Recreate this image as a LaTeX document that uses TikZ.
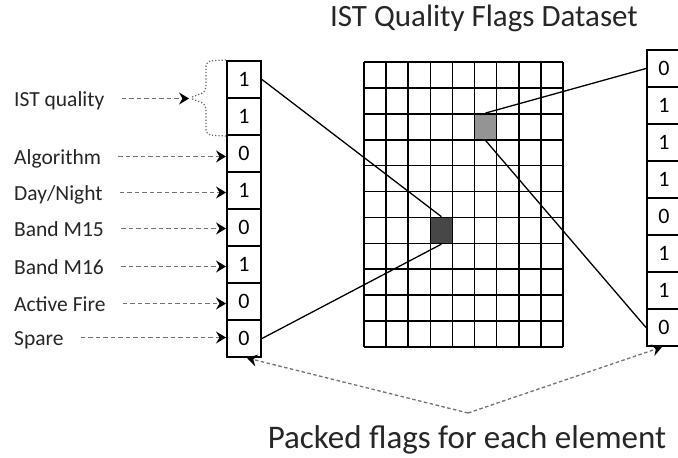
\documentclass[tikz,border=0pt]{standalone}
\usepackage{fontspec}
\setmainfont{Carlito}
\usetikzlibrary{arrows.meta,calc}
\begin{document}
\begin{tikzpicture}[x=1pt,y=-1pt,
  bitbox/.style={draw=black,line width=2pt,minimum width=34pt,minimum height=37pt,inner sep=0pt,font=\fontsize{22}{26}\selectfont},
  flaglabel/.style={anchor=base west,inner sep=0pt,font=\fontsize{21.5}{24}\selectfont,text=black!85},
  dasharrow/.style={draw=black!55,line width=1.3pt,dash pattern=on 4.5pt off 3pt,-{Stealth[black,length=10pt,width=12pt,inset=3.5pt]}},
  gridline/.style={line width=1.6pt,black},
  cellbox/.style={draw=black,line width=1.6pt,minimum width=22.1pt,minimum height=25.9pt,inner sep=0pt},
  link/.style={line width=1.3pt,black}]
\useasboundingbox (0,0) rectangle (678,458);

% title
\node[anchor=base,inner sep=0pt,font=\fontsize{31}{36}\selectfont,text=black!85] (title) at (484,26) {IST Quality Flags Dataset};

% grid
\foreach \i in {0,...,9} \draw[gridline] ({364+\i*22.111},62) -- ({364+\i*22.111},347);
\foreach \j in {0,...,11} \draw[gridline] (364,{62+\j*25.909}) -- (563,{62+\j*25.909});
\node[cellbox,fill=black!42] (lc) at ({364+5.5*22.111},{62+2.5*25.909}) {};
\node[cellbox,fill=black!72] (dc) at ({364+3.5*22.111},{62+6.5*25.909}) {};

% left column
\foreach \v [count=\i] in {1,1,0,1,0,1,0,0}
  \node[bitbox] (L\i) at (244,{61+37*(\i-0.5)}) {\v};
% right column
\foreach \v [count=\i] in {0,1,1,1,0,1,1,0}
  \node[bitbox] (R\i) at (664,{50+37*(\i-0.5)}) {\v};

% labels
\node[flaglabel] (t1) at (14,106) {IST quality};
\node[flaglabel] (t2) at (14,164) {Algorithm};
\node[flaglabel] (t3) at (14,200) {Day/Night};
\node[flaglabel] (t4) at (14,236) {Band M15};
\node[flaglabel] (t5) at (14,274) {Band M16};
\node[flaglabel] (t6) at (14,311) {Active Fire};
\node[flaglabel] (t7) at (14,345) {Spare};

\foreach \k in {1,...,7}
  \coordinate (s\k) at ($(t\k.base east)+(17,-7.5)$);

% brace
\coordinate (bt) at (189,98);
\draw[black!60,line width=1.2pt,dotted,rounded corners=5pt]
  (L1.north west) -- (206,61) -- (206,92) -- (bt) -- (206,104) -- (206,135) -- (L2.south west);
\draw[dasharrow] (s1) -- (s1 -| bt);
\draw[dasharrow] (s2) -- (s2 -| L3.west);
\draw[dasharrow] (s3) -- (s3 -| L4.west);
\draw[dasharrow] (s4) -- (s4 -| L5.west);
\draw[dasharrow] (s5) -- (s5 -| L6.west);
\draw[dasharrow] (s6) -- (s6 -| L7.west);
\draw[dasharrow] (s7) -- (s7 -| L8.west);

% links
\draw[link] (L1.east) -- (dc.north);
\draw[link] (L8.east) -- (dc.south);
\draw[link] (R1.west) -- (lc.north);
\draw[link] (lc.south) -- (R8.west);

% bottom
\node[anchor=base,inner sep=0pt,font=\fontsize{33}{38}\selectfont,text=black!85] (cap) at (467,448) {Packed flags for each element};
\coordinate (apex) at (468,413);
\draw[dasharrow,dash pattern=on 3.5pt off 2.5pt] (apex) -- ([xshift=3pt]L8.south);
\draw[dasharrow,dash pattern=on 3.5pt off 2.5pt] (apex) -- ([xshift=-2pt]R8.south);
\end{tikzpicture}
\end{document}
